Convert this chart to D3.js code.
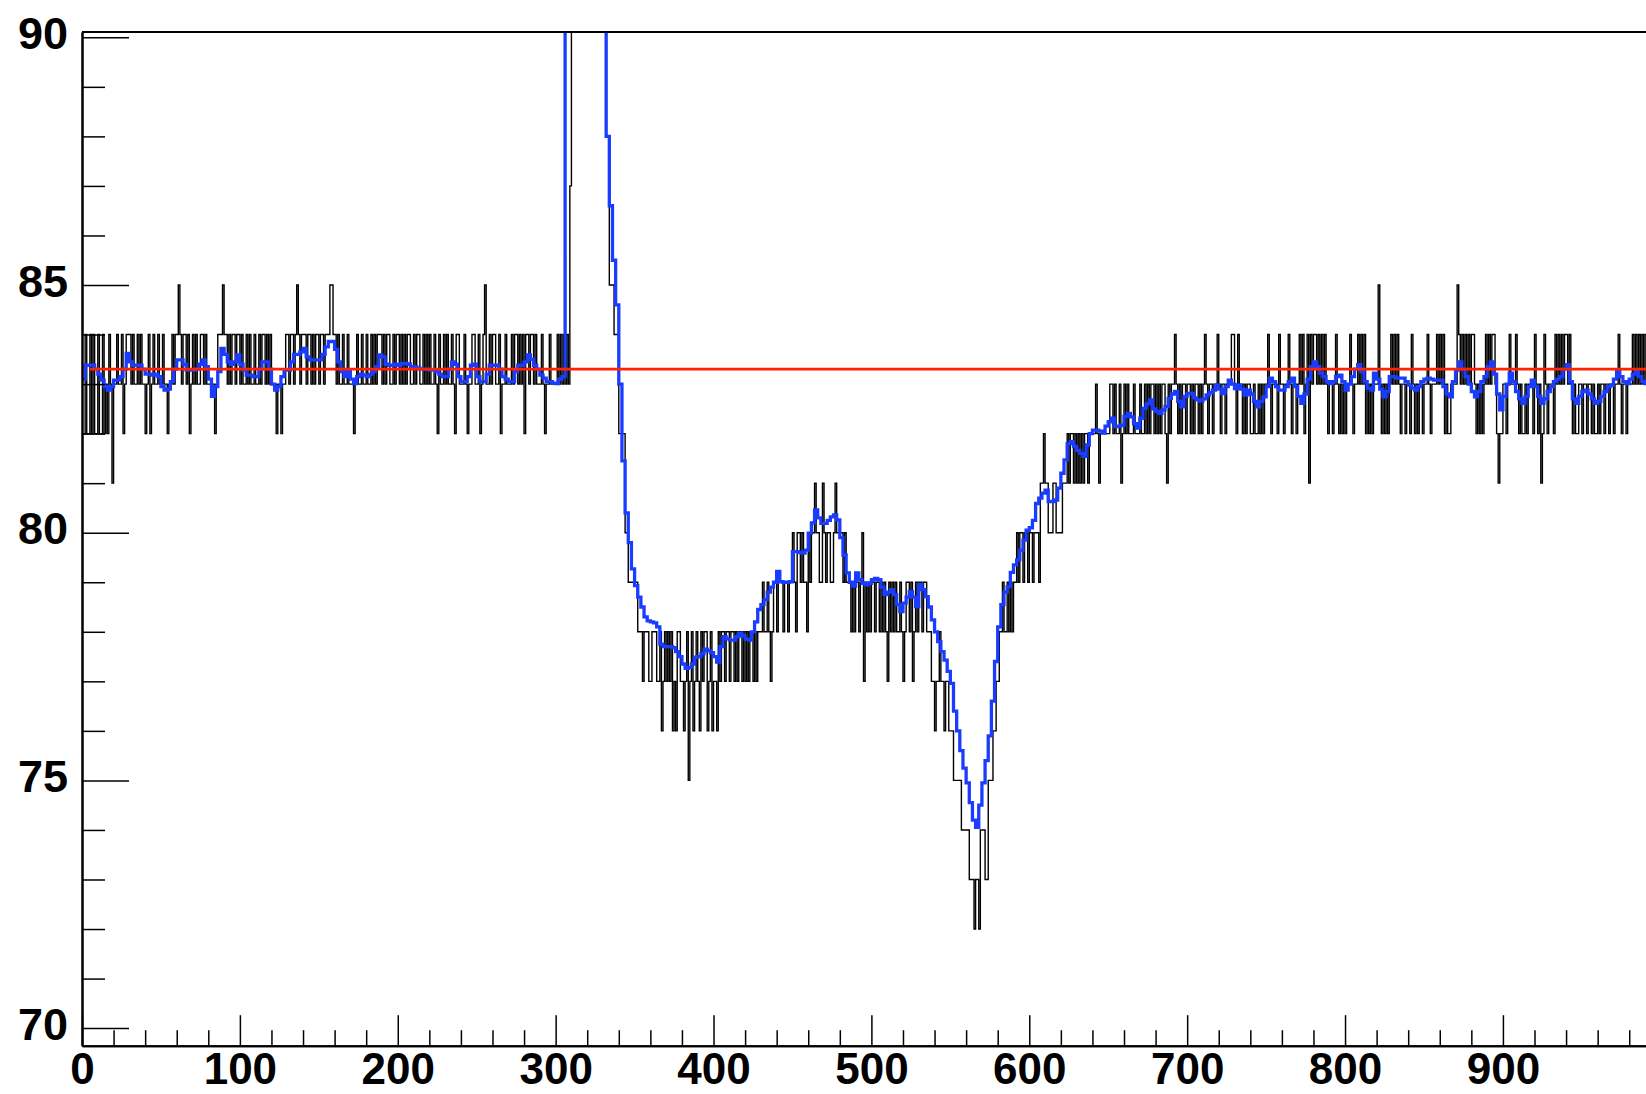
<!DOCTYPE html>
<html>
<head>
<meta charset="utf-8">
<script src="https://cdn.jsdelivr.net/npm/d3@7"></script>
<style>
  html, body { margin: 0; padding: 0; background: #fff; overflow: hidden; }
  text { font-family: "Liberation Sans", Arial, Helvetica, sans-serif; font-weight: bold; }
</style>
</head>
<body>
<svg id="chart" width="1646" height="1094"></svg>
<script>
// Raw samples: one value per unit-wide bin, bins 0..999
const rawCounts = [
  82,82,84,82,82,84,82,84,82,82, 84,82,82,84,82,83,82,84,83,81,
  83,83,84,83,83,84,82,83,84,84, 84,83,84,83,83,84,83,84,83,83,
  82,83,84,82,83,84,83,83,84,83, 83,84,83,83,82,83,83,84,83,84,
  84,85,84,83,84,84,83,84,82,83, 84,83,84,83,83,84,84,83,84,83,
  83,83,83,83,82,83,84,84,84,85, 84,84,83,84,83,84,84,83,84,84,
  83,84,83,83,84,83,84,83,83,84, 83,83,84,83,84,84,83,84,83,84,
  83,83,83,82,83,83,82,83,83,84, 84,83,84,84,83,84,85,84,83,84,
  84,84,83,84,84,83,84,83,84,84, 83,84,84,83,84,84,84,85,85,84,
  84,83,84,83,83,84,83,83,84,83, 83,83,82,83,84,83,83,84,83,83,
  84,83,83,84,83,84,83,84,84,84, 83,84,83,84,84,83,83,84,83,84,
  84,83,84,83,84,83,84,84,83,83, 84,83,84,84,83,83,84,83,84,83,
  84,83,83,84,83,82,84,83,83,84, 83,84,83,83,84,83,82,84,84,83,
  83,83,84,83,82,83,83,84,84,83, 83,84,82,83,84,85,83,83,84,83,
  84,84,83,83,84,82,83,83,84,83, 83,83,84,83,84,84,83,84,83,84,
  82,84,84,83,84,84,83,84,83,83, 83,84,83,82,83,83,84,83,83,83,
  83,84,83,84,83,84,83,84,83,87, 96,102,108,112,115,117,118,118,117,115,
  113,110,107,104,101,99,97,95,93,92, 92,91,88,88,85,85,85,84,84,84,
  82,82,82,82,80,80,79,79,79,79, 79,79,78,78,78,77,78,78,78,77,
  77,78,78,78,77,77,78,76,77,78, 77,78,77,78,76,77,76,78,78,77,
  77,76,77,78,75,77,78,76,77,78, 77,76,78,77,78,78,76,77,78,76,
  77,77,76,78,77,78,78,77,78,78, 77,78,78,77,78,77,78,78,77,78,
  77,78,77,78,78,77,78,77,78,78, 78,79,78,78,79,78,77,78,79,79,
  78,79,79,79,78,79,79,78,79,79, 80,79,78,80,80,79,80,79,79,78,
  80,79,80,80,81,80,80,79,79,81, 80,79,80,80,79,79,80,81,80,80,
  80,80,79,80,79,79,79,78,79,78, 79,79,78,79,80,77,79,78,79,78,
  79,79,78,79,79,78,79,78,79,78, 77,79,78,79,78,79,78,78,79,78,
  77,78,79,79,78,79,77,78,79,78, 79,79,78,79,79,78,78,78,77,77,
  76,77,77,78,77,77,76,77,77,76, 76,76,75,75,75,75,75,74,74,74,
  74,74,73,73,73,72,73,73,72,74, 74,74,73,73,75,75,75,76,76,77,
  77,78,78,79,78,78,79,78,79,78, 79,79,80,79,80,80,79,80,80,79,
  80,80,79,80,80,80,79,81,81,82, 81,81,80,80,80,81,81,80,80,80,
  80,81,81,81,82,81,82,82,81,82, 81,82,81,82,81,82,82,81,82,82,
  82,82,83,82,81,82,82,82,82,82, 82,83,83,82,83,82,82,83,81,82,
  83,82,83,82,82,82,83,82,82,82, 83,82,82,83,82,83,82,83,83,82,
  83,82,83,82,83,83,82,81,83,82, 83,83,84,83,82,83,82,83,83,82,
  83,83,82,83,82,83,83,82,83,82, 83,84,83,82,83,83,82,83,83,84,
  83,82,83,83,82,83,83,83,84,84, 83,82,84,83,83,82,83,82,83,83,
  82,82,83,82,82,83,82,83,82,83, 83,84,83,82,83,83,83,82,84,83,
  83,82,83,83,84,83,82,83,83,82, 83,84,83,84,82,83,84,81,84,83,
  84,84,83,84,83,84,83,84,83,82, 83,83,82,83,84,83,82,83,82,83,
  82,83,83,84,83,82,83,83,84,83, 84,83,84,82,83,82,83,82,83,83,
  83,85,83,82,83,82,83,82,83,84, 83,84,83,84,83,82,83,83,82,83,
  83,82,84,83,82,83,82,83,83,82, 83,83,84,83,82,83,83,83,84,83,
  84,83,84,82,83,82,82,83,83,83, 83,85,84,83,84,83,84,83,84,83,
  84,84,83,82,83,82,83,82,83,84, 83,84,83,84,84,83,82,81,82,82,
  83,83,82,83,84,83,83,83,84,83, 82,83,82,82,83,82,83,83,83,82,
  84,83,82,83,81,82,84,83,82,83, 83,83,82,84,83,84,83,84,83,84,
  84,83,84,83,82,83,82,82,83,83, 82,83,83,82,83,83,82,83,82,82,
  83,82,83,83,82,83,83,82,83,83, 82,83,83,84,83,82,83,83,82,83,
  83,83,84,83,84,83,84,83,84,83, 84,83,82,83,83,84,83,82,83,83
];
const rawBinWidth = 1;

// Smoothed trace: one value per two-unit bin, bins covering 0..1000
const smoothed = [
  83.10,83.38,83.38,83.38,83.30,83.20,83.08,82.95,82.88,82.95,
  83.08,83.08,83.15,83.30,83.62,83.45,83.38,83.38,83.38,83.30,
  83.20,83.20,83.18,83.20,83.15,82.95,82.88,82.90,83.05,83.30,
  83.49,83.49,83.40,83.28,83.28,83.28,83.30,83.40,83.49,83.35,
  83.10,82.75,82.95,83.25,83.72,83.60,83.45,83.40,83.45,83.59,
  83.40,83.28,83.18,83.18,83.15,83.15,83.30,83.45,83.45,83.30,
  83.00,82.88,82.95,83.15,83.28,83.28,83.45,83.60,83.60,83.65,
  83.72,83.55,83.49,83.49,83.49,83.49,83.60,83.75,83.86,83.86,
  83.70,83.45,83.25,83.15,83.25,83.10,83.01,83.15,83.20,83.18,
  83.15,83.20,83.25,83.35,83.59,83.55,83.40,83.38,83.38,83.40,
  83.38,83.42,83.42,83.40,83.35,83.35,83.32,83.30,83.30,83.30,
  83.28,83.28,83.25,83.20,83.15,83.15,83.30,83.45,83.40,83.15,
  83.05,83.05,83.15,83.38,83.40,83.15,83.05,83.05,83.20,83.38,
  83.38,83.38,83.30,83.15,83.10,83.05,83.05,83.25,83.38,83.38,
  83.45,83.59,83.50,83.38,83.30,83.18,83.12,83.05,83.05,83.02,
  83.01,83.10,83.15,93.00,98.00,103.0,107.0,110.0,112.0,112.0,
  110.0,107.0,103.0,99.00,95.00,90.60,88.00,86.60,85.50,84.60,
  83.00,81.45,80.40,79.80,79.27,78.93,78.70,78.50,78.30,78.22,
  78.20,78.18,78.10,77.75,77.70,77.70,77.70,77.68,77.60,77.50,
  77.35,77.26,77.28,77.35,77.49,77.50,77.56,77.65,77.62,77.58,
  77.50,77.39,77.70,77.90,77.86,77.83,77.83,77.90,77.97,77.92,
  77.85,77.83,78.00,78.20,78.45,78.55,78.65,78.80,78.90,79.00,
  79.22,79.01,79.00,79.00,79.01,79.62,79.62,79.60,79.59,79.65,
  79.99,80.20,80.46,80.30,80.19,80.19,80.25,80.32,80.36,80.26,
  79.90,79.55,79.19,79.00,78.92,79.19,79.05,78.98,78.95,78.98,
  79.05,79.08,79.05,78.90,78.75,78.80,78.85,78.75,78.55,78.41,
  78.58,78.70,78.81,78.70,78.51,78.95,78.85,78.71,78.50,78.24,
  78.00,77.80,77.60,77.43,77.20,76.96,76.40,76.00,75.60,75.25,
  74.95,74.55,74.20,74.05,74.50,74.95,75.40,75.90,76.60,77.40,
  78.10,78.55,78.80,78.91,79.20,79.35,79.45,79.65,79.85,80.05,
  80.10,80.25,80.59,80.70,80.80,80.86,80.63,80.63,80.66,80.90,
  81.20,81.47,81.80,81.84,81.74,81.66,81.60,81.54,81.77,82.00,
  82.07,82.07,82.05,82.01,82.15,82.24,82.31,82.14,82.15,82.17,
  82.35,82.41,82.34,82.20,82.11,82.31,82.51,82.60,82.68,82.50,
  82.45,82.41,82.48,82.55,82.71,82.80,82.85,82.65,82.54,82.75,
  82.81,82.81,82.72,82.68,82.66,82.70,82.78,82.83,82.88,82.98,
  82.90,82.81,82.95,83.08,83.00,82.91,82.98,82.90,82.78,82.88,
  82.80,82.65,82.54,82.65,82.74,82.95,83.12,83.05,82.95,82.88,
  82.88,82.95,83.05,83.12,82.95,82.75,82.61,82.80,83.10,83.35,
  83.45,83.35,83.22,83.15,83.05,83.01,83.05,83.15,83.18,83.05,
  82.88,83.00,83.15,83.30,83.39,83.25,83.05,82.92,82.88,83.22,
  83.10,82.90,82.74,82.85,83.15,83.15,83.12,83.12,83.12,83.05,
  82.98,82.92,82.88,82.95,83.05,83.10,83.12,83.10,83.08,83.08,
  83.08,82.95,82.80,82.74,83.05,83.28,83.45,83.30,83.15,83.00,
  82.85,82.74,82.85,83.05,83.15,83.35,83.45,83.20,82.80,82.48,
  82.75,83.00,83.22,83.05,82.85,82.70,82.61,82.75,82.95,83.08,
  82.95,82.75,82.61,82.70,82.85,82.95,83.05,83.10,83.15,83.30,
  83.39,83.05,82.70,82.61,82.75,82.85,82.88,82.80,82.70,82.61,
  82.65,82.75,82.85,82.95,82.98,83.10,83.25,83.15,83.05,83.01,
  83.10,83.20,83.25,83.15,83.05,83.01,83.05,83.10,83.05,83.00
];
const smoothedBinWidth = 2;

// Horizontal reference level and where it begins
const referenceLevel = 83.3;
const referenceRange = [5, 1000];

// Axis ticks (the 1000 end of the axis falls outside the page)
const xMajorTicks = [0, 100, 200, 300, 400, 500, 600, 700, 800, 900];
const xMinorStep = 20;
const yMajorTicks = [70, 75, 80, 85, 90];
const yMinorStep = 1;

const svg = d3.select("#chart");
const W = 1646, H = 1094;
const plot = { left: 82, top: 32, bottom: 1045.7 };

const x = d3.scaleLinear().domain([0, 1000]).range([plot.left, 1660.8]);
const y = d3.scaleLinear().domain([69.645, 90.107]).range([plot.bottom, plot.top]);

svg.append("rect").attr("width", W).attr("height", H).attr("fill", "#fff");

svg.append("defs").append("clipPath").attr("id", "plotClip")
  .append("rect")
  .attr("x", plot.left).attr("y", plot.top)
  .attr("width", W - plot.left).attr("height", plot.bottom - plot.top);

// Turn per-bin values into a stepped outline
function histPoints(vals, w) {
  const pts = vals.map((v, i) => [i * w, v]);
  pts.push([vals.length * w, vals[vals.length - 1]]);
  return pts;
}
const stepLine = d3.line()
  .x(d => x(d[0]))
  .y(d => y(d[1]))
  .curve(d3.curveStepAfter);

const marks = svg.append("g").attr("clip-path", "url(#plotClip)");

marks.append("path")
  .attr("d", stepLine(histPoints(rawCounts, rawBinWidth)))
  .attr("fill", "none")
  .attr("stroke", "#000")
  .attr("stroke-width", 1.4)
  .attr("stroke-linejoin", "miter");

marks.append("path")
  .attr("d", stepLine(histPoints(smoothed, smoothedBinWidth)))
  .attr("fill", "none")
  .attr("stroke", "#1a3cff")
  .attr("stroke-width", 3.3)
  .attr("stroke-linejoin", "miter");

marks.append("line")
  .attr("x1", x(referenceRange[0])).attr("x2", x(referenceRange[1]))
  .attr("y1", y(referenceLevel)).attr("y2", y(referenceLevel))
  .attr("stroke", "#ff2200")
  .attr("stroke-width", 2.8);

// Axes: ticks point inward, minor ticks drawn as a separate unlabeled axis
const yMinor = d3.range(70, 90 + 1e-9, yMinorStep).filter(v => !yMajorTicks.includes(v));
const xMinor = d3.range(0, 1000 + 1e-9, xMinorStep).filter(v => v % 100 !== 0);

const yAxisMinor = svg.append("g")
  .attr("transform", `translate(${plot.left},0)`)
  .call(d3.axisLeft(y).tickValues(yMinor).tickSize(-23).tickSizeOuter(0).tickFormat(""));
const yAxisMajor = svg.append("g")
  .attr("transform", `translate(${plot.left},0)`)
  .call(d3.axisLeft(y).tickValues(yMajorTicks).tickSize(-47).tickSizeOuter(0).tickPadding(14));

const xAxisMinor = svg.append("g")
  .attr("transform", `translate(0,${plot.bottom})`)
  .call(d3.axisBottom(x).tickValues(xMinor).tickSize(-15.5).tickSizeOuter(0).tickFormat(""));
const xAxisMajor = svg.append("g")
  .attr("transform", `translate(0,${plot.bottom})`)
  .call(d3.axisBottom(x).tickValues(xMajorTicks).tickSize(-30.5).tickSizeOuter(0).tickPadding(7.5));

[yAxisMinor, yAxisMajor, xAxisMinor, xAxisMajor].forEach(g => {
  g.selectAll(".tick line").attr("stroke", "#000").attr("stroke-width", 1.5);
  g.select(".domain").attr("stroke", "#000").attr("stroke-width", 2);
});
[yAxisMajor, xAxisMajor].forEach(g => {
  g.selectAll(".tick text")
    .attr("fill", "#000")
    .style("font-weight", "bold")
    .style("font-family", '"Liberation Sans", Arial, Helvetica, sans-serif');
});
yAxisMajor.selectAll(".tick text").style("font-size", "45px").attr("dy", "0.25em");
xAxisMajor.selectAll(".tick text").style("font-size", "44px").attr("dy", "0.71em");

// Top edge of the frame
svg.append("line")
  .attr("x1", plot.left).attr("x2", W)
  .attr("y1", plot.top).attr("y2", plot.top)
  .attr("stroke", "#000").attr("stroke-width", 2);
</script>
</body>
</html>
